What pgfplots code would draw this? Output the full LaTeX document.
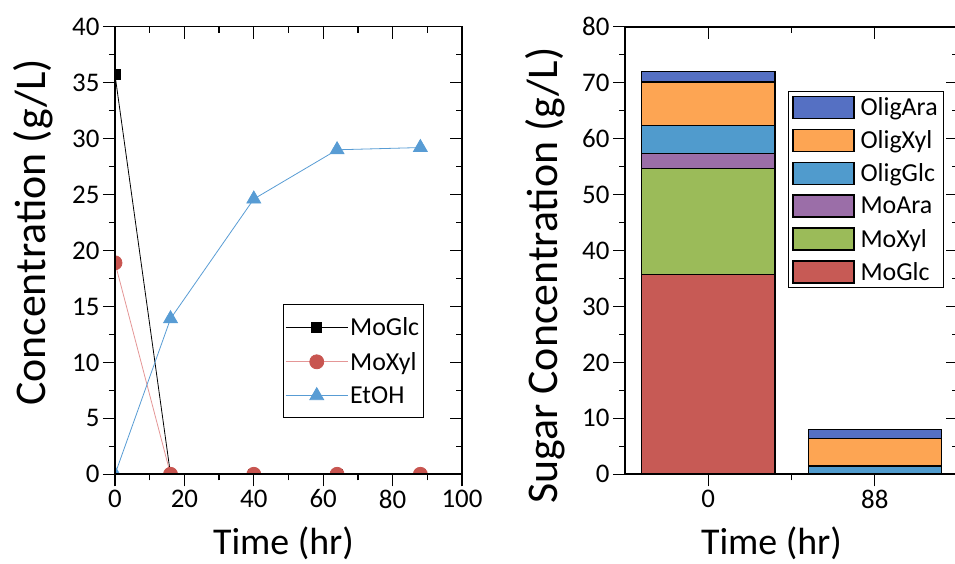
\documentclass[border=0pt]{standalone}
\usepackage{fontspec}
\setmainfont{Carlito}
\usepackage{pgfplots}
\pgfplotsset{compat=1.18}
\definecolor{cGlc}{RGB}{199,90,85}
\definecolor{cXyl}{RGB}{155,187,89}
\definecolor{cAra}{RGB}{155,110,168}
\definecolor{cOGlc}{RGB}{80,155,205}
\definecolor{cOXyl}{RGB}{253,165,83}
\definecolor{cOAra}{RGB}{85,112,195}
\definecolor{lXylM}{RGB}{200,85,80}
\definecolor{lXylL}{RGB}{228,150,150}
\definecolor{lEt}{RGB}{88,156,212}
\begin{document}
\begin{tikzpicture}
\pgfplotsset{
 common/.style={scale only axis, height=447.6bp,
   axis line style={line width=1.6bp},
   every tick/.style={line width=1.3bp, black},
   major tick length=12bp, minor tick length=6bp,
   tick label style={font=\fontsize{27}{27}\selectfont},
   xlabel style={font=\fontsize{38}{40}\selectfont, at={(axis description cs:0.5,0)}, anchor=center, yshift=-69bp},
   ylabel style={font=\fontsize{44}{46}\selectfont, at={(axis description cs:0,0.5)}, anchor=center},
   /pgf/number format/assume math mode=true},
 leftax/.style={common, at={(115bp,89.7bp)}, anchor=south west, width=347bp,
   xmin=0, xmax=100, ymin=0, ymax=40,
   xtick={0,20,...,100}, ytick={0,5,...,40},
   minor x tick num=1, minor y tick num=1},
 rightax/.style={common, at={(625bp,89.7bp)}, anchor=south west, width=333bp,
   xmin=-0.5, xmax=1.5, ymin=0, ymax=80,
   xtick={0,1}, minor xtick={0.5}, ytick={0,10,...,80},
   minor y tick num=1},
}
% ---------- left panel ----------
\begin{axis}[leftax, tick align=outside, xtick pos=left, ytick pos=left,
  xlabel={Time (hr)}, ylabel={Concentration (g/L)},
  xlabel style={xshift=-5bp},
  ylabel style={yshift=82bp, xshift=18bp},
  clip marker paths=true,
  legend style={at={(0.484,0.38)}, anchor=north west, draw=black, line width=0.8bp,
    font=\fontsize{26}{26}\selectfont, cells={anchor=west}, row sep=11bp,
    inner xsep=2bp, inner ysep=11bp},
  legend image code/.code={\draw[mark repeat=2,mark phase=2,#1] plot coordinates {(10bp,0bp) (41bp,0bp) (72bp,0bp)};},
]
\addplot[black, line width=0.8bp, mark=square*, mark size=5bp, mark options={solid, fill=black}]
  coordinates {(0,35.7) (16,0) (40,0) (64,0) (88,0)};
\addlegendentry{MoGlc\hspace{20bp}}
\addplot[lXylL, line width=0.8bp, mark=*, mark size=7bp, mark options={solid, fill=lXylM, draw=lXylM}]
  coordinates {(0,18.9) (16,0) (40,0) (64,0) (88,0)};
\addlegendentry{MoXyl}
\addplot[lEt, line width=0.8bp, mark=triangle*, mark size=8bp, mark options={solid, fill=lEt, draw=lEt}]
  coordinates {(0,0) (16,13.9) (40,24.6) (64,29.0) (88,29.2)};
\addlegendentry{EtOH}
\end{axis}
\begin{axis}[leftax, tick align=inside, xtick pos=right, ytick pos=right,
  xticklabels={}, yticklabels={}]
\addplot[draw=none] coordinates {(50,20)};
\end{axis}
% ---------- right panel ----------
\begin{axis}[rightax, tick align=outside, xtick pos=left, ytick pos=left,
  xticklabels={0,88},
  xlabel={Time (hr)}, ylabel={Sugar Concentration (g/L)},
  xlabel style={xshift=-20bp},
  ylabel style={yshift=80bp, xshift=-25bp},
  ybar stacked, bar width=0.8,
  reverse legend,
  legend style={at={(0.489,0.856)}, anchor=north west, draw=black, line width=0.8bp,
    font=\fontsize{26}{26}\selectfont, cells={anchor=west}, row sep=9.5bp,
    inner xsep=4bp, inner ysep=4bp},
  legend image code/.code={\draw[#1] (0bp,-11bp) rectangle (61bp,11bp);},
]
\addplot[draw=black, line width=1.3bp, fill=cGlc] coordinates {(0,35.7) (1,0)};
\addlegendentry{\hspace{4bp}MoGlc}
\addplot[draw=black, line width=1.3bp, fill=cXyl] coordinates {(0,18.9) (1,0)};
\addlegendentry{\hspace{4bp}MoXyl}
\addplot[draw=black, line width=1.3bp, fill=cAra] coordinates {(0,2.8) (1,0)};
\addlegendentry{\hspace{4bp}MoAra}
\addplot[draw=black, line width=1.3bp, fill=cOGlc] coordinates {(0,4.9) (1,1.5)};
\addlegendentry{\hspace{4bp}OligGlc}
\addplot[draw=black, line width=1.3bp, fill=cOXyl] coordinates {(0,7.8) (1,4.9)};
\addlegendentry{\hspace{4bp}OligXyl}
\addplot[draw=black, line width=1.3bp, fill=cOAra] coordinates {(0,1.9) (1,1.6)};
\addlegendentry{\hspace{4bp}OligAra}
\end{axis}
\begin{axis}[rightax, tick align=inside, xtick pos=right, ytick pos=right,
  xticklabels={}, yticklabels={}]
\addplot[draw=none] coordinates {(0.5,20)};
\end{axis}
\pgfresetboundingbox
\path[use as bounding box] (0bp,0bp) rectangle (955bp,564bp);
\end{tikzpicture}
\end{document}
